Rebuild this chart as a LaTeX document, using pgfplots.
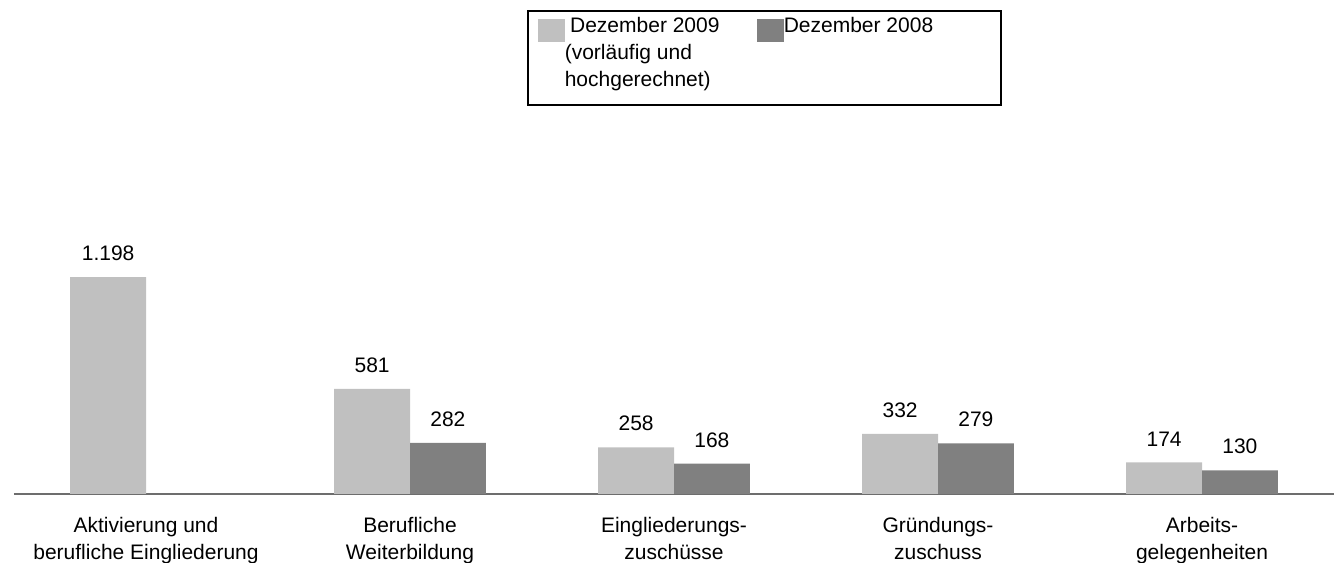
\documentclass[border=0pt]{standalone}
\usepackage{pgfplots}
\pgfplotsset{compat=1.18}
\usepackage{fontspec}
\setmainfont{Liberation Sans}
\definecolor{light}{HTML}{C0C0C0}
\definecolor{dark}{HTML}{808080}
\newcommand\lbl{\fontsize{15.75pt}{20.25pt}\selectfont}
\begin{document}
\begin{tikzpicture}
\useasboundingbox (-10.5pt,-51.75pt) rectangle (990pt,370.5pt);
\begin{axis}[
  at={(0,0)}, anchor=south west,
  scale only axis, width=990pt, height=280.5pt,
  xmin=-0.5, xmax=4.5, ymin=0, ymax=2065,
  enlargelimits=false, clip=false,
  axis x line*=bottom, axis y line=none,
  x axis line style={-, draw=dark!85!black, line width=1.3pt},
  xtick={0,1,2,3,4}, xtick style={draw=none}, major tick length=0pt,
  xticklabels={{Aktivierung und\\berufliche Eingliederung},{Berufliche\\Weiterbildung},{Eingliederungs-\\zuschüsse},{Gründungs-\\zuschuss},{Arbeits-\\gelegenheiten}},
  xticklabel style={align=center, font=\lbl, inner sep=0pt, yshift=-17pt},
  ytick=\empty,
  ybar, bar width=0.287,
  /pgf/number format/assume math mode=true,
  /pgf/number format/1000 sep={.},
  nodes near coords,
  every node near coord/.append style={font=\lbl, anchor=south, inner sep=0pt, yshift=12pt, text=black},
  legend columns=2,
  legend style={at={(0.38864,1.29412)}, anchor=north west, draw=black, line width=1.2pt,
    inner xsep=7.5pt, inner ysep=0pt, font=\lbl,
    cells={anchor=base west}, nodes={inner sep=0pt},
    /tikz/every even column/.append style={column sep=0pt},
    /tikz/every odd column/.append style={column sep=0pt}},
]
\addplot[fill=light, draw=none, bar shift=-0.1435,
  legend image code/.code={\path[draw=none,fill=none] (0pt,-54.25pt) -- (0pt,16.25pt);\fill[light] (0pt,-7pt) rectangle (20.25pt,10pt);}]
  coordinates {(0,1198) (1,581) (2,258) (3,332) (4,174)};
\addlegendentry{\parbox[t]{144pt}{\rule{0pt}{16.25pt}\hspace*{4pt}Dezember 2009\\(vorläufig und\\hochgerechnet)\rule[-13.75pt]{0pt}{13.75pt}}}
\addplot[fill=dark, draw=none, bar shift=0.1435,
  legend image code/.code={\path[draw=none,fill=none] (0pt,-54.25pt) -- (0pt,16.25pt);\fill[dark] (0pt,-7pt) rectangle (20.25pt,10pt);}]
  coordinates {(1,282) (2,168) (3,279) (4,130)};
\addlegendentry{\parbox[t]{155.25pt}{\rule{0pt}{16.25pt}Dezember 2008}}
\end{axis}
\end{tikzpicture}
\end{document}
